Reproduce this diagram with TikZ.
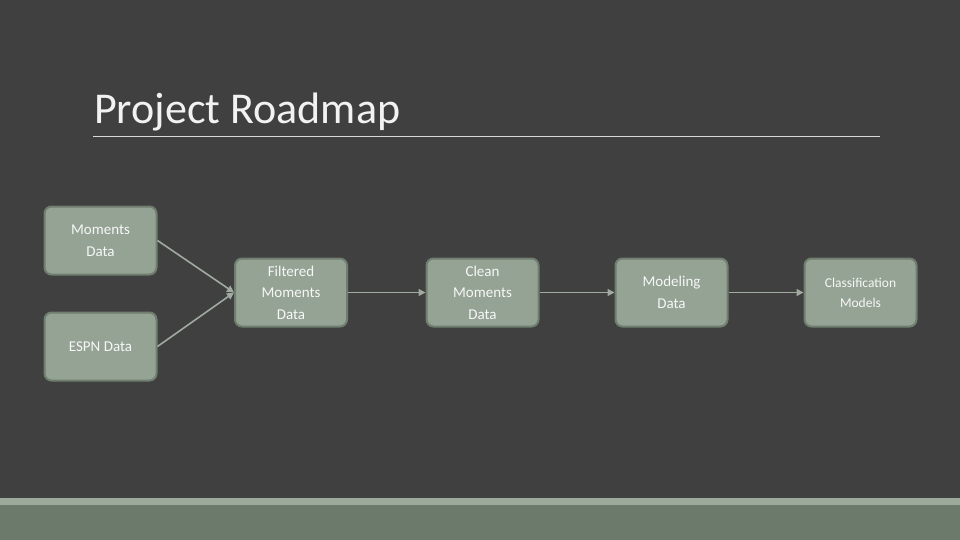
\documentclass[tikz,border=0pt]{standalone}
\usepackage{fontspec}
\setmainfont{Carlito}
\usetikzlibrary{arrows.meta}
\definecolor{bgdark}{RGB}{64,64,64}
\definecolor{boxfill}{RGB}{148,163,148}
\definecolor{boxline}{RGB}{112,126,112}
\definecolor{arrowgray}{RGB}{160,170,160}
\definecolor{bandlight}{RGB}{156,170,156}
\definecolor{banddark}{RGB}{107,122,107}
\tikzset{
  stepbox/.style={draw=boxline,line width=2pt,fill=boxfill,rounded corners=7pt,
    minimum width=112pt,minimum height=68pt,text=white!94!gray,align=center,
    font=\fontsize{15}{21.5}\selectfont},
  flow/.style={draw=arrowgray,line width=1.6pt,-{Triangle[length=7pt,width=7pt]}}
}
\begin{document}
\begin{tikzpicture}[x=1pt,y=-1pt]
\fill[bgdark] (0,0) rectangle (960,540);
\useasboundingbox (0,0) rectangle (960,540);
% bottom band
\fill[bandlight] (0,498) rectangle (960,505);
\fill[banddark] (0,505) rectangle (960,540);
% title
\node (title) [anchor=base west,inner sep=0pt,text=white!90!gray,font=\fontsize{44}{50}\selectfont] at (94,124) {Project Roadmap};
\draw[white!70!gray,line width=0.8pt] (93,136) -- (880,136);

% boxes
\node (moments) [stepbox] at (100.5,240.5) {Moments\\Data};
\node (espn) [stepbox] at (100.5,346.5) {ESPN Data};
\node (filtered) [stepbox] at (291,292.5) {Filtered\\Moments\\Data};
\node (clean) [stepbox] at (482.5,292.5) {Clean\\Moments\\Data};
\node (modeling) [stepbox] at (671.5,292.5) {Modeling\\Data};
\node (classif) [stepbox,font=\fontsize{13.5}{20}\selectfont] at (860.5,292.5) {Classification\\Models};

% connectors
\draw[flow] (moments.east) -- (filtered.west);
\draw[flow] (espn.east) -- (filtered.west);
\draw[flow] (filtered) -- (clean);
\draw[flow] (clean) -- (modeling);
\draw[flow] (modeling) -- (classif);
\end{tikzpicture}
\end{document}
